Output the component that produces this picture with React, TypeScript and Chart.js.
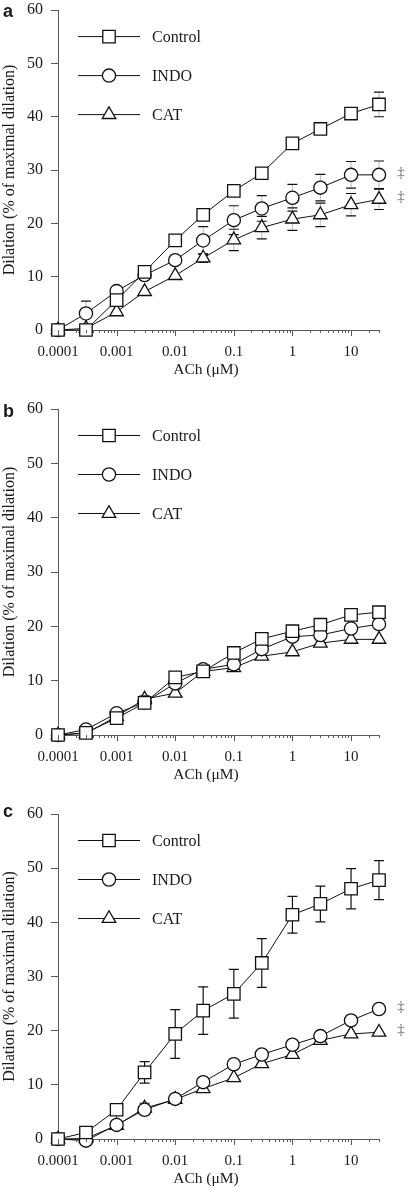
import React, { useEffect, useRef } from "react";
import { Chart, registerables } from "chart.js";

Chart.register(...registerables);

// ---------- DATA ----------
const DOSES = [0.0001, 0.0003, 0.001, 0.003, 0.01, 0.03, 0.1, 0.3, 1, 3, 10, 30];
const SERIES_NAMES = ["Control", "INDO", "CAT"];
const MAJOR_TICKS = [0.0001, 0.001, 0.01, 0.1, 1, 10];
const MAJOR_TICK_LABELS = ["0.0001", "0.001", "0.01", "0.1", "1", "10"];
const MINOR_MULTIPLIERS = [2, 3, 4, 5, 6, 7, 8, 9];
const X_MIN = 0.0001;
const X_MAX = 30;
const Y_MIN = 0;
const Y_MAX = 60;
const Y_STEP = 10;
const X_TITLE = "ACh (\u03bcM)";
const Y_TITLE = "Dilation (% of maximal dilation)";
const PANEL_LETTERS = ["a", "b", "c"];
const SIG_MARK = "\u2021";

// Panel a
const A_CONTROL = [0, 0, 5.6, 10.9, 16.8, 21.6, 26.1, 29.4, 35.0, 37.7, 40.6, 42.3];
const A_INDO = [0, 3.1, 7.3, 10.3, 13.1, 16.8, 20.6, 22.8, 24.8, 26.7, 29.1, 29.1];
const A_CAT = [0, 0.3, 3.4, 7.2, 10.2, 13.5, 16.9, 19.2, 20.8, 21.6, 23.5, 24.5];
const A_CONTROL_SEM = [0, 0, 0.6, 0.6, 1.0, 0.6, 0.6, 0.6, 0.6, 0.6, 0.6, 2.3];
const A_INDO_SEM = [0, 2.3, 0.6, 0.6, 0.6, 2.6, 2.7, 2.4, 2.5, 2.5, 2.5, 2.6];
const A_CAT_SEM = [0, 0, 0, 0, 0, 0.8, 2.0, 2.1, 2.1, 2.2, 2.1, 1.9];
const A_SIG = [false, true, true];

// Panel b
const B_CONTROL = [0, 0.4, 3.1, 5.9, 10.6, 11.7, 15.1, 17.7, 19.1, 20.3, 22.1, 22.6];
const B_INDO = [0, 1.0, 4.0, 6.0, 9.5, 12.1, 13.0, 15.8, 18.1, 18.4, 19.6, 20.4];
const B_CAT = [0, 0.3, 3.4, 6.6, 7.7, 11.7, 12.4, 14.5, 15.3, 16.9, 17.6, 17.6];
const B_CONTROL_SEM = [0, 0.5, 0.5, 0.5, 0.5, 0.5, 0.5, 0.5, 0.5, 0.5, 0.5, 0.5];
const B_INDO_SEM = [0, 0.5, 0.5, 0.5, 0.5, 0.5, 0.5, 0.5, 0.5, 0.5, 0.5, 0.5];
const B_CAT_SEM = [0, 0, 0, 0.6, 0, 0, 0, 0, 0, 0, 0, 0];
const B_SIG = [false, false, false];

// Panel c
const C_CONTROL = [0, 1.2, 5.4, 12.3, 19.4, 23.7, 26.8, 32.5, 41.4, 43.4, 46.2, 47.8];
const C_INDO = [0, -0.3, 2.6, 5.4, 7.4, 10.5, 13.8, 15.6, 17.4, 19.0, 21.9, 24.0];
const C_CAT = [0, 0.1, 2.5, 5.7, 7.3, 9.3, 11.3, 13.9, 15.6, 18.2, 19.4, 19.7];
const C_CONTROL_SEM = [0, 0.5, 0.6, 2.0, 4.5, 4.4, 4.5, 4.5, 3.4, 3.3, 3.7, 3.6];
const C_INDO_SEM = [0, 0.5, 0.5, 0.5, 0.5, 0.5, 0.5, 0.5, 0.5, 0.5, 0.5, 0.5];
const C_CAT_SEM = [0, 0, 0, 0.9, 0, 0, 0, 0, 0, 0, 0, 0];
const C_SIG = [false, true, true];

// ---------- STYLE / LAYOUT ----------
const POINT_STYLES = ["rect", "circle", "triangle"];
const POINT_RADII = [8.8, 6.6, 7.8];
const LINE_COLOR = "#111111";
const AXIS_COLOR = "#5a5a5a";
const TEXT_COLOR = "#1a1a1a";
const SERIF = "'Liberation Serif', 'Times New Roman', serif";
const SANS = "'Liberation Sans', Arial, sans-serif";

const PANELS = [
  { top: 0, height: 395, plotTop: 10, plotBottom: 330, letterDy: 6.5, stemColor: "#c4c4c4",
    series: [A_CONTROL, A_INDO, A_CAT], sems: [A_CONTROL_SEM, A_INDO_SEM, A_CAT_SEM], sig: A_SIG },
  { top: 395, height: 395, plotTop: 14, plotBottom: 340, letterDy: 7.5, stemColor: "#c4c4c4",
    series: [B_CONTROL, B_INDO, B_CAT], sems: [B_CONTROL_SEM, B_INDO_SEM, B_CAT_SEM], sig: B_SIG },
  { top: 790, height: 398, plotTop: 24, plotBottom: 349, letterDy: 3, stemColor: "#111111",
    series: [C_CONTROL, C_INDO, C_CAT], sems: [C_CONTROL_SEM, C_INDO_SEM, C_CAT_SEM], sig: C_SIG },
];

function drawMarker(ctx: CanvasRenderingContext2D, style: string, x: number, y: number, r: number) {
  ctx.beginPath();
  if (style === "rect") {
    const s = Math.SQRT1_2 * r;
    ctx.rect(x - s, y - s, 2 * s, 2 * s);
  } else if (style === "circle") {
    ctx.arc(x, y, r, 0, Math.PI * 2);
  } else {
    let rad = 0;
    const step = (2 * Math.PI) / 3;
    ctx.moveTo(x + Math.sin(rad) * r, y - Math.cos(rad) * r);
    rad += step;
    ctx.lineTo(x + Math.sin(rad) * r, y - Math.cos(rad) * r);
    rad += step;
    ctx.lineTo(x + Math.sin(rad) * r, y - Math.cos(rad) * r);
    ctx.closePath();
  }
  ctx.fillStyle = "#ffffff";
  ctx.fill();
  ctx.lineWidth = 1.3;
  ctx.strokeStyle = LINE_COLOR;
  ctx.stroke();
}

const decorPlugin = {
  id: "decor",
  beforeDatasetsDraw(chart: any, _args: any, opts: any) {
    const { ctx } = chart;
    const ys = chart.scales.y;
    ctx.save();
    ctx.lineWidth = 1.2;
    const cap = 5;
    chart.data.datasets.forEach((ds: any, di: number) => {
      const meta = chart.getDatasetMeta(di);
      const sem = opts.sems[di];
      meta.data.forEach((pt: any, i: number) => {
        const e = sem[i];
        if (!e) return;
        const v = ds.data[i].y;
        const yt = ys.getPixelForValue(v + e);
        const yb = ys.getPixelForValue(v - e);
        ctx.strokeStyle = opts.stemColor;
        ctx.beginPath();
        ctx.moveTo(pt.x, yt);
        ctx.lineTo(pt.x, yb);
        ctx.stroke();
        ctx.strokeStyle = LINE_COLOR;
        ctx.beginPath();
        ctx.moveTo(pt.x - cap, yt);
        ctx.lineTo(pt.x + cap, yt);
        ctx.moveTo(pt.x - cap, yb);
        ctx.lineTo(pt.x + cap, yb);
        ctx.stroke();
      });
    });
    ctx.restore();
  },
  afterDraw(chart: any, _args: any, opts: any) {
    const { ctx, chartArea } = chart;
    const xs = chart.scales.x;
    ctx.save();
    // x tick marks (major + minor)
    ctx.strokeStyle = AXIS_COLOR;
    ctx.lineWidth = 1;
    xs.ticks.forEach((t: any) => {
      const x = Math.round(xs.getPixelForValue(t.value)) + 0.5;
      const len = t.major ? 6 : 3;
      ctx.beginPath();
      ctx.moveTo(x, chartArea.bottom);
      ctx.lineTo(x, chartArea.bottom + len);
      ctx.stroke();
    });
    // x title
    ctx.fillStyle = TEXT_COLOR;
    ctx.font = `15.5px ${SERIF}`;
    ctx.textAlign = "center";
    ctx.textBaseline = "middle";
    ctx.fillText(X_TITLE, chart.width / 2, chartArea.bottom + 40);
    // panel letter
    ctx.font = `bold 18px ${SANS}`;
    ctx.textAlign = "left";
    ctx.textBaseline = "alphabetic";
    ctx.fillText(opts.letter, 3, chartArea.top + opts.letterDy);
    // legend
    const rows = [26.5, 65.5, 104.5];
    SERIES_NAMES.forEach((name, i) => {
      const y = chartArea.top + rows[i];
      const x0 = chartArea.left + 20;
      const x1 = chartArea.left + 82;
      ctx.beginPath();
      ctx.strokeStyle = LINE_COLOR;
      ctx.lineWidth = 1;
      ctx.moveTo(x0, y);
      ctx.lineTo(x1, y);
      ctx.stroke();
      drawMarker(ctx, POINT_STYLES[i], chartArea.left + 51, y, POINT_RADII[i]);
      ctx.fillStyle = TEXT_COLOR;
      ctx.font = `16px ${SERIF}`;
      ctx.textAlign = "left";
      ctx.textBaseline = "middle";
      ctx.fillText(name, chartArea.left + 94, y + 1);
    });
    // significance marks
    ctx.fillStyle = "#666666";
    ctx.font = `15px ${SERIF}`;
    ctx.textAlign = "center";
    ctx.textBaseline = "middle";
    opts.sig.forEach((flag: boolean, di: number) => {
      if (!flag) return;
      const meta = chart.getDatasetMeta(di);
      const last = meta.data[meta.data.length - 1];
      ctx.fillText(SIG_MARK, last.x + 22, last.y - 2);
    });
    ctx.restore();
  },
};

function buildConfig(p: any, idx: number): any {
  const xAxisHeight = p.height - p.plotBottom;
  return {
    type: "line",
    data: {
      datasets: SERIES_NAMES.map((name, i) => ({
        label: name,
        data: DOSES.map((d, j) => ({ x: d, y: p.series[i][j] })),
        borderColor: LINE_COLOR,
        borderWidth: 1,
        pointStyle: POINT_STYLES[i],
        pointRadius: POINT_RADII[i],
        pointHoverRadius: POINT_RADII[i],
        pointBackgroundColor: "#ffffff",
        pointBorderColor: LINE_COLOR,
        pointBorderWidth: 1.3,
        tension: 0,
        fill: false,
        clip: false,
      })),
    },
    plugins: [decorPlugin],
    options: {
      animation: false,
      responsive: false,
      devicePixelRatio: 1,
      events: [],
      layout: { padding: { top: p.plotTop, right: 33, left: 0, bottom: 0 } },
      plugins: {
        legend: { display: false },
        tooltip: { enabled: false },
        title: { display: false },
        decor: { letter: PANEL_LETTERS[idx], letterDy: p.letterDy, sems: p.sems, sig: p.sig, stemColor: p.stemColor },
      },
      scales: {
        x: {
          type: "logarithmic",
          min: X_MIN,
          max: X_MAX,
          afterFit: (s: any) => {
            s.height = xAxisHeight;
            s.paddingLeft = 0;
            s.paddingRight = 0;
          },
          afterBuildTicks: (s: any) => {
            const t: any[] = [];
            MAJOR_TICKS.forEach((m) => {
              t.push({ value: m, major: true });
              MINOR_MULTIPLIERS.forEach((k) => {
                const v = m * k;
                if (v <= X_MAX * 1.0001) t.push({ value: v, major: false });
              });
            });
            s.ticks = t;
          },
          grid: { display: false },
          border: { display: true, color: AXIS_COLOR, width: 1 },
          ticks: {
            autoSkip: false,
            maxRotation: 0,
            minRotation: 0,
            padding: 5,
            color: TEXT_COLOR,
            font: { family: SERIF, size: 15 },
            callback: (value: any) => {
              const i = MAJOR_TICKS.indexOf(Number(value));
              return i >= 0 ? MAJOR_TICK_LABELS[i] : "";
            },
          },
          title: { display: false },
        },
        y: {
          type: "linear",
          min: Y_MIN,
          max: Y_MAX,
          afterFit: (s: any) => {
            s.width = 58;
            s.paddingTop = 0;
            s.paddingBottom = 0;
          },
          grid: {
            display: true,
            drawOnChartArea: false,
            drawTicks: true,
            tickLength: 7,
            color: AXIS_COLOR,
            tickColor: AXIS_COLOR,
          },
          border: { display: true, color: AXIS_COLOR, width: 1 },
          ticks: {
            stepSize: Y_STEP,
            padding: 8,
            color: TEXT_COLOR,
            font: { family: SERIF, size: 16 },
          },
          title: {
            display: true,
            text: Y_TITLE,
            color: TEXT_COLOR,
            font: { family: SERIF, size: 16 },
            padding: { top: 0, bottom: 0 },
          },
        },
      },
    },
  };
}

export default function App() {
  const refs = [useRef<HTMLCanvasElement>(null), useRef<HTMLCanvasElement>(null), useRef<HTMLCanvasElement>(null)];
  useEffect(() => {
    const charts = PANELS.map((p, i) => new Chart(refs[i].current as HTMLCanvasElement, buildConfig(p, i)));
    return () => charts.forEach((c) => c.destroy());
  }, []);
  return (
    <div style={{ position: "absolute", left: 0, top: 0, width: 412, height: 1188, background: "#ffffff" }}>
      {PANELS.map((p, i) => (
        <canvas
          key={i}
          ref={refs[i]}
          width={412}
          height={p.height}
          style={{ position: "absolute", left: 0, top: p.top, width: 412, height: p.height }}
        />
      ))}
    </div>
  );
}
